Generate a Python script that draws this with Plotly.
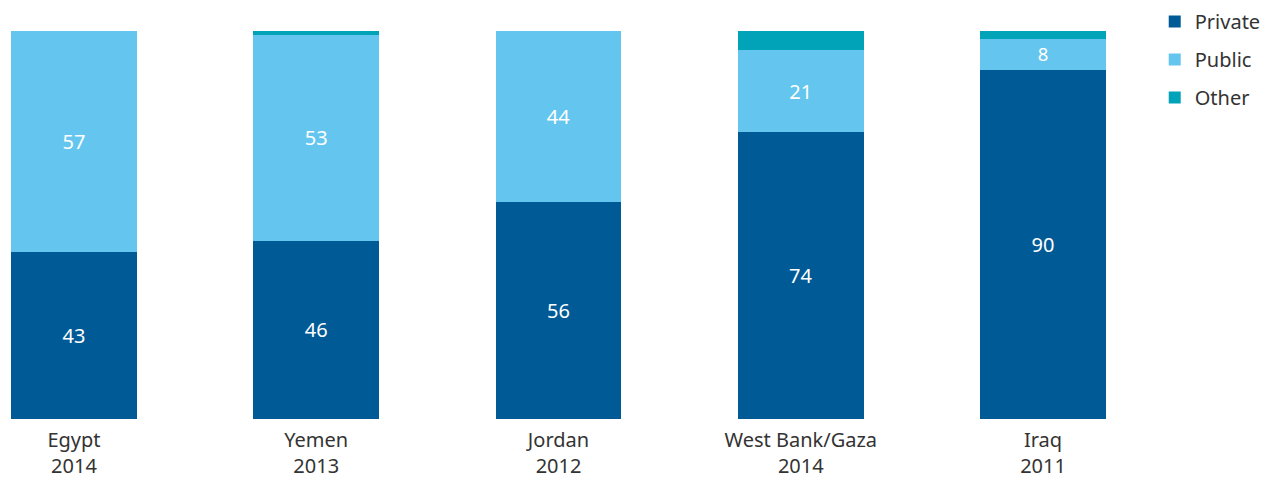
import plotly.graph_objects as go

categories = ["Egypt<br>2014", "Yemen<br>2013", "Jordan<br>2012", "West Bank/Gaza<br>2014", "Iraq<br>2011"]
private = [43, 46, 56, 74, 90]
public = [57, 53, 44, 21, 8]
other = [0, 1, 0.5, 5, 2]

colors = {"Private": "#005A96", "Public": "#64C6EE", "Other": "#00A3B7"}
font_family = "Noto Sans"

fig = go.Figure()
fig.add_trace(go.Bar(x=categories, y=private, name="Private", marker_color=colors["Private"],
                     marker_line_width=0,
                     text=private, textposition="inside", insidetextanchor="middle", textangle=0,
                     textfont=dict(color="white", size=20, family=font_family),
                     legendgroup="a", width=0.52))
fig.add_trace(go.Bar(x=categories, y=public, name="Public", marker_color=colors["Public"],
                     marker_line_width=0,
                     text=public, textposition="inside", insidetextanchor="middle", textangle=0,
                     textfont=dict(color="white", size=20, family=font_family),
                     legendgroup="b", width=0.52))
fig.add_trace(go.Bar(x=categories, y=other, name="Other", marker_color=colors["Other"],
                     marker_line_width=0,
                     textposition="none", legendgroup="c", width=0.52))

fig.update_layout(
    barmode="stack",
    width=1272, height=473,
    margin=dict(l=3, r=174, t=23, b=62, autoexpand=False),
    plot_bgcolor="white", paper_bgcolor="white",
    font=dict(family=font_family, size=20, color="#333333"),
    showlegend=True,
    legend=dict(x=1.0445, y=1.075, xanchor="left", yanchor="top",
                font=dict(size=20, color="#333333"), tracegroupgap=9,
                itemwidth=30),
    xaxis=dict(showgrid=False, showline=False, ticks="", range=[-0.26, 4.26],
               automargin=False, ticklabelstandoff=7,
               tickfont=dict(size=20, color="#333333")),
    yaxis=dict(visible=False, range=[0, 100], automargin=False),
)
fig.write_html("out.html")
